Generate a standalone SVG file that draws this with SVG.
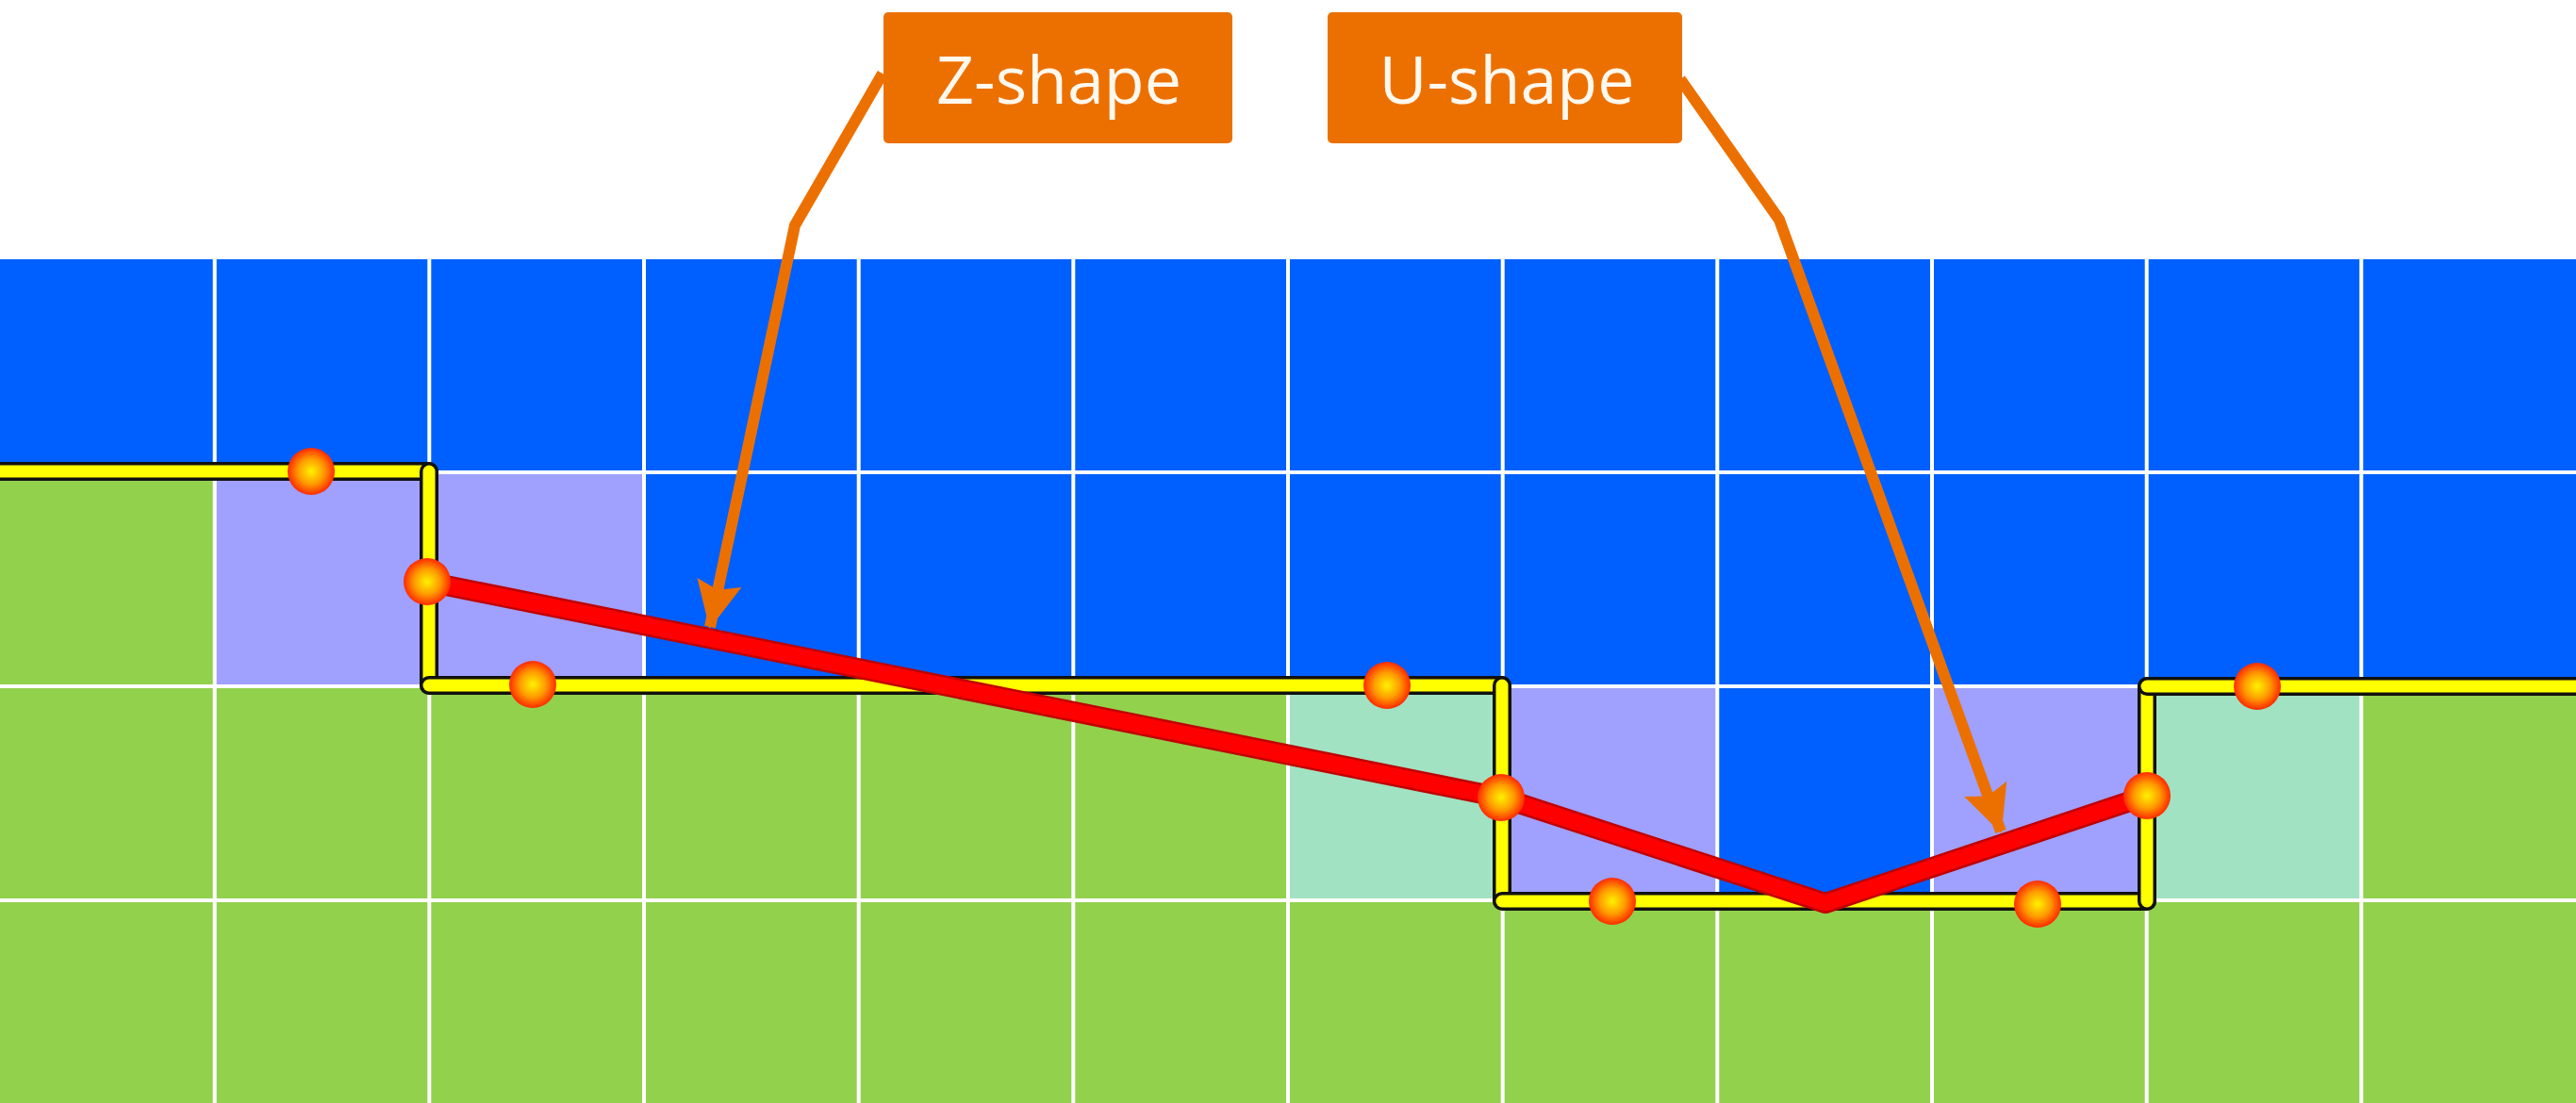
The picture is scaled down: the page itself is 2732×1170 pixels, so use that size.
<svg xmlns="http://www.w3.org/2000/svg" width="2732" height="1170" viewBox="0 0 2732 1170">
<style>
.blue{fill:#0060FF}.green{fill:#92D14C}.lav{fill:#A0A0FF}.teal{fill:#A0E2C2}
.grid line{stroke:#FFFFFF;stroke-width:4}
.pipeO{stroke:#111111;stroke-width:20;stroke-linecap:round;fill:none}
.pipeI{stroke:#FFFF00;stroke-width:13;stroke-linecap:round;fill:none}
.box{fill:#EC7000}
.lbl{font-family:"Open Sans","Liberation Sans",sans-serif;font-size:70px;fill:#FFF8EE;text-anchor:middle}
.call{stroke:#EC7000;stroke-width:12;fill:none;stroke-linejoin:round}
.dot{fill:url(#dotg)}
</style>
<defs>
<radialGradient id="dotg" cx="0.5" cy="0.5" r="0.5">
<stop offset="0" stop-color="#FFF200"/>
<stop offset="0.55" stop-color="#FF9A00"/>
<stop offset="1" stop-color="#FF2A00"/>
</radialGradient>
<marker id="ah" markerUnits="userSpaceOnUse" markerWidth="50" markerHeight="48" refX="48" refY="24" orient="auto">
<path d="M0,0 L50,24 L0,48 L8,24 Z" fill="#EC7000"/>
</marker>
</defs>
<rect width="2732" height="1170" fill="#FFFFFF"/>
<g id="grid">
<rect class="blue" x="0" y="275" width="2732" height="226"/>
<rect class="blue" x="0" y="501" width="2732" height="227"/>
<rect class="green" x="0" y="501" width="227.7" height="227"/>
<rect class="lav" x="227.7" y="501" width="455.3" height="227"/>
<rect class="green" x="0" y="728" width="2732" height="227"/>
<rect class="teal" x="1366" y="728" width="227.7" height="227"/>
<rect class="lav" x="1593.7" y="728" width="227.6" height="227"/>
<rect class="blue" x="1821.3" y="728" width="227.7" height="227"/>
<rect class="lav" x="2049" y="728" width="227.7" height="227"/>
<rect class="teal" x="2276.7" y="728" width="227.6" height="227"/>
<rect class="green" x="0" y="955" width="2732" height="215"/>
<g class="grid">
<line x1="227.7" y1="275" x2="227.7" y2="1170"/>
<line x1="455.3" y1="275" x2="455.3" y2="1170"/>
<line x1="683" y1="275" x2="683" y2="1170"/>
<line x1="910.7" y1="275" x2="910.7" y2="1170"/>
<line x1="1138.3" y1="275" x2="1138.3" y2="1170"/>
<line x1="1366" y1="275" x2="1366" y2="1170"/>
<line x1="1593.7" y1="275" x2="1593.7" y2="1170"/>
<line x1="1821.3" y1="275" x2="1821.3" y2="1170"/>
<line x1="2049" y1="275" x2="2049" y2="1170"/>
<line x1="2276.7" y1="275" x2="2276.7" y2="1170"/>
<line x1="2504.3" y1="275" x2="2504.3" y2="1170"/>
<line x1="0" y1="501" x2="2732" y2="501"/>
<line x1="0" y1="728" x2="2732" y2="728"/>
<line x1="0" y1="955" x2="2732" y2="955"/>
</g>
</g>
<g id="boundary">
<line class="pipeO" x1="-10" y1="500" x2="455" y2="500"/><line class="pipeI" x1="-10" y1="500" x2="455" y2="500"/>
<line class="pipeO" x1="455" y1="500" x2="455" y2="727"/><line class="pipeI" x1="455" y1="500" x2="455" y2="727"/>
<line class="pipeO" x1="455" y1="727" x2="1593" y2="727"/><line class="pipeI" x1="455" y1="727" x2="1593" y2="727"/>
<line class="pipeO" x1="1593" y1="727" x2="1593" y2="955"/><line class="pipeI" x1="1593" y1="727" x2="1593" y2="955"/>
<line class="pipeO" x1="1593" y1="956" x2="2277" y2="956"/><line class="pipeI" x1="1593" y1="956" x2="2277" y2="956"/>
<line class="pipeO" x1="2277" y1="956" x2="2277" y2="728"/><line class="pipeI" x1="2277" y1="956" x2="2277" y2="728"/>
<line class="pipeO" x1="2277" y1="728" x2="2745" y2="728"/><line class="pipeI" x1="2277" y1="728" x2="2745" y2="728"/>
</g>
<g id="path">
<polyline points="453,617 1592,846 1936,958 2277,844" fill="none" stroke="#C00000" stroke-width="22" stroke-linejoin="round" stroke-linecap="round"/>
<polyline points="453,617 1592,846 1936,958 2277,844" fill="none" stroke="#FF0000" stroke-width="17" stroke-linejoin="round" stroke-linecap="round"/>
</g>
<g id="points">
<circle class="dot" cx="330" cy="500" r="25"/>
<circle class="dot" cx="453" cy="617" r="25"/>
<circle class="dot" cx="565" cy="726" r="25"/>
<circle class="dot" cx="1471" cy="727" r="25"/>
<circle class="dot" cx="1592" cy="846" r="25"/>
<circle class="dot" cx="1710" cy="956" r="25"/>
<circle class="dot" cx="2161" cy="959" r="25"/>
<circle class="dot" cx="2277" cy="844" r="25"/>
<circle class="dot" cx="2394" cy="728" r="25"/>
</g>
<g id="connectors">
<polyline class="call" points="936,78 843,239 753,665" marker-end="url(#ah)"/>
<polyline class="call" points="1782,84 1887,233 2122,882" marker-end="url(#ah)"/>
</g>
<g id="z-shape">
<rect class="box" x="937" y="13" width="370" height="139" rx="5"/>
<text class="lbl" x="1123" y="110">Z-shape</text>
</g>
<g id="u-shape">
<rect class="box" x="1408" y="13" width="376" height="139" rx="5"/>
<text class="lbl" x="1598" y="110">U-shape</text>
</g>
</svg>
